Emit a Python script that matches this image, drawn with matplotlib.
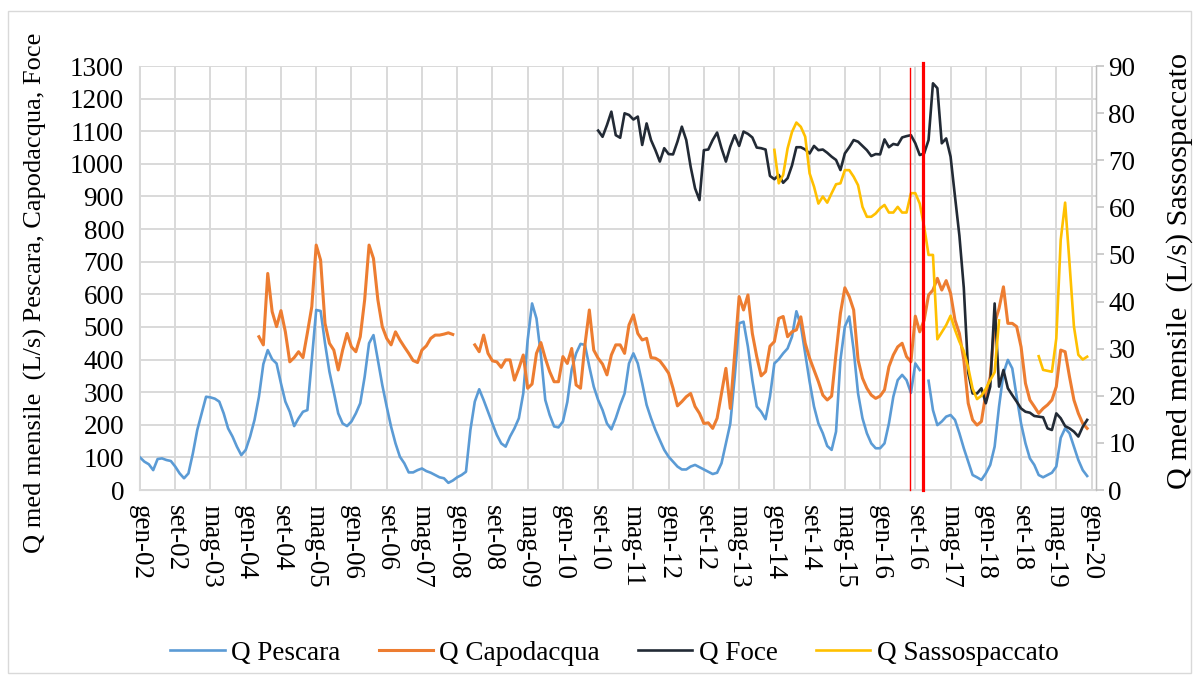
import matplotlib.pyplot as plt
import matplotlib.patches as patches
import numpy as np
import pandas as pd

plt.rcParams["font.family"] = ["Liberation Serif", "DejaVu Serif"]

# Italian month abbreviations for the category axis
mesi = ["gen", "feb", "mar", "apr", "mag", "giu", "lug", "ago", "set", "ott", "nov", "dic"]

# Monthly mean discharge (L/s). None = missing month.
pescara_start = "2002-01"
pescara = [
    100, 87, 79, 61, 95, 97, 92, 89, 72, 51, 36, 51,
    112, 184, 235, 286, 284, 280, 271, 235, 189, 164, 133, 107,
    123, 164, 215, 286, 386, 429, 401, 388, 327, 271, 240, 196,
    220, 240, 245, 399, 552, 549, 450, 363, 300, 235, 204, 196,
    210, 235, 266, 347, 450, 475, 399, 322, 256, 194, 143, 102,
    82, 54, 54, 61, 66, 58, 53, 46, 39, 36, 22, 29,
    39, 46, 56, 184, 271, 309, 276, 240, 204, 169, 143, 133,
    164, 189, 220, 296, 460, 572, 526, 414, 276, 230, 195, 192,
    210, 270, 370, 419, 448, 445, 378, 317, 276, 245, 204, 186,
    220, 261, 296, 388, 419, 388, 327, 261, 220, 184, 153, 123,
    102, 87, 72, 63, 63, 72, 77, 70, 63, 56, 49, 53,
    82, 143, 204, 347, 511, 516, 439, 337, 256, 240, 217, 286,
    388, 401, 419, 434, 470, 548, 505, 419, 332, 256, 204, 174,
    135, 123, 179, 399, 501, 532, 429, 296, 220, 174, 143, 128,
    128, 143, 204, 286, 337, 353, 337, 298, 388, 368, None, 335,
    245, 199, 210, 225, 230, 215, 174, 128, 87, 46, 39, 31,
    51, 77, 133, 256, 358, 399, 373, 286, 204, 143, 97, 77,
    46, 39, 46, 53, 72, 160, 189, 174, 133, 92, 61, 43,
]

capodacqua_start = "2004-04"
capodacqua = [
    470, 445, 664, 547, 501, 550, 485, 393, 406,
    424, 406, 482, 562, 751, 705, 511, 450, 429, 368, 429, 480,
    439, 424, 470, 583, 751, 710, 583, 501, 465, 445, 485, 460,
    439, 419, 397, 391, 429, 442, 465, 475, 475, 478, 482, 477,
    None, None, None, None, 445, 424, 475, 419, 396, 393, 376, 399,
    399, 337, 373, 414, 312, 325, 419, 452, 404, 363, 332, 332,
    409, 388, 434, 322, 312, 445, 552, 429, 404, 386, 353, 414,
    445, 445, 419, 506, 537, 480, 460, 465, 406, 404, 396, 378,
    358, 312, 258, 271, 286, 296, 256, 235, 204, 206, 189, 220,
    296, 373, 250, 419, 593, 552, 598, 480, 409, 350, 363, 441,
    455, 526, 532, 470, 485, 491, 531, 450, 404, 368, 332, 291,
    276, 288, 419, 542, 620, 593, 552, 399, 343, 312, 291, 281,
    288, 307, 378, 414, 439, 450, 409, 393, 533, 485, 521, 598,
    613, 649, 613, 642, 603, 521, 480, 399, 266, 215, 199, 210,
    296, 347, 511, 557, 623, 511, 511, 501, 439, 327, 276, 256,
    235, 250, 261, 276, 317, 429, 424, 347, 276, 235, 204, 189,
]

foce_start = "2010-09"
foce = [
    1102, 1083, 1119, 1160, 1088, 1080, 1155, 1150, 1136, 1145, 1058, 1124,
    1073, 1042, 1007, 1048, 1030, 1029, 1068, 1114, 1073, 991, 925, 889,
    1042, 1044, 1073, 1096, 1048, 1007, 1053, 1088, 1055, 1099, 1092, 1081,
    1050, 1048, 1044, 963, 953, 966, 942, 956, 995, 1051, 1051, 1044,
    1032, 1055, 1042, 1044, 1034, 1022, 1012, 981, 1032, 1051, 1073, 1068,
    1055, 1042, 1024, 1030, 1029, 1075, 1051, 1061, 1058, 1081, 1085, 1088,
    1063, 1027, 1032, 1073, 1247, 1232, 1063, 1078, 1022, 900, 780, 620,
    360, 296, 296, 312, 266, 317, 572, 317, 368, 312, 291, 271,
    250, 240, 237, 227, 225, 223, 189, 184, 235, 220, 196, 189,
    179, 164, 194, 215,
]

sasso_start = "2014-01"
sassospaccato = [
    72.2, 65.1, 66.9, 72.5, 76.0, 78.0, 77.1, 75.0, 67.2, 64.4, 60.8, 62.3,
    61.0, 63.0, 64.9, 65.1, 67.9, 67.9, 66.5, 64.7, 60.1, 58.0, 58.0, 58.7,
    59.8, 60.5, 58.9, 58.9, 60.1, 58.9, 58.9, 63.0, 63.0, 60.8, 55.9, 49.9,
    49.9, 32.0, 33.5, 35.0, 37.0, 34.0, 31.5, 29.5, 26.0, 21.5, 19.3, 20.0,
    21.5, 23.3, 25.0, 36.0, None, None, None, None, None, None, None, None,
    28.4, 25.5, 25.3, 25.1, 32.2, 53.1, 61.0, 48.1, 34.7, 28.7, 27.7, 28.3,
]

# seismic events (fractional month index from gen-02) and their line widths
eventi = [174.9, 177.7]
eventi_lw = [1.0, 2.3]


def month_index(ym):
    d = pd.Timestamp(ym + "-01")
    return (d.year - 2002) * 12 + d.month - 1


def series(start, values):
    x = month_index(start) + np.arange(len(values))
    y = np.array([np.nan if v is None else v for v in values], dtype=float)
    return x, y


tick_dates = pd.date_range("2002-01-01", "2020-01-01", freq="8MS")
tick_pos = [(d.year - 2002) * 12 + d.month - 1 for d in tick_dates]
tick_lab = [f"{mesi[d.month - 1]}-{d.year % 100:02d}" for d in tick_dates]

fig = plt.figure(figsize=(12, 6.82), dpi=100)
ax = fig.add_axes([0.1161, 0.2815, 0.7972, 0.6217])
ax2 = ax.twinx()

grid_c = "#d9d9d9"
l1, = ax.plot(*series(pescara_start, pescara), color="#5b9bd5", lw=1.9, label="Q Pescara")
l2, = ax.plot(*series(capodacqua_start, capodacqua), color="#ed7d31", lw=2.2, label="Q Capodacqua")
l3, = ax.plot(*series(foce_start, foce), color="#222a35", lw=1.9, label="Q Foce")
l4, = ax2.plot(*series(sasso_start, sassospaccato), color="#ffc000", lw=1.9, label="Q Sassospaccato")

for xe, lw, top in zip(eventi, eventi_lw, [0.996, 1.007]):
    ax2.axvline(xe, ymin=0, ymax=top, color="#ff0000", lw=lw, clip_on=False, zorder=5)

ax.set_xlim(-0.15, 217)
ax.set_ylim(0, 1300)
ax2.set_ylim(0, 90)
ax.set_yticks(np.arange(0, 1301, 100))
ax2.set_yticks(np.arange(0, 91, 10))
ax.set_xticks(tick_pos)
ax.set_xticklabels(tick_lab, rotation=-90)

ax.grid(True, color=grid_c, lw=1.4)
ax.set_axisbelow(True)
ax.tick_params(axis="x", length=0, pad=11, labelsize=19.5)
ax.tick_params(axis="y", length=0, pad=11, labelsize=19.5)
ax2.tick_params(axis="y", length=6, width=1.1, color="#bfbfbf", pad=3, labelsize=19.5)

ax.spines["top"].set_visible(False)
ax2.spines["top"].set_visible(False)
ax.spines["left"].set_color(grid_c)
ax.spines["bottom"].set_color(grid_c)
ax2.spines["left"].set_visible(False)
ax2.spines["bottom"].set_visible(False)
ax2.spines["right"].set_color("#bfbfbf")

fig.text(35 / 1200, 1 - 33 / 682, "Q med mensile  (L/s) Pescara, Capodacqua, Foce",
         rotation=90, ha="center", va="top", fontsize=19)
fig.text(1180 / 1200, 1 - 53 / 682, "Q med mensile  (L/s) Sassospaccato",
         rotation=90, ha="center", va="top", fontsize=21.7)

fig.legend([l1, l2, l3, l4], [l.get_label() for l in [l1, l2, l3, l4]],
           loc="center", bbox_to_anchor=(0.512, 1 - 653 / 682), ncol=4, frameon=False,
           fontsize=19.5, handlelength=2.0, handletextpad=0.25, columnspacing=1.4)

fig.add_artist(patches.Rectangle((8 / 1200, 1 - 673 / 682), 1183 / 1200, 662 / 682,
                                 transform=fig.transFigure, fill=False, ec=grid_c, lw=1))

fig.savefig("out.png", dpi=100)
